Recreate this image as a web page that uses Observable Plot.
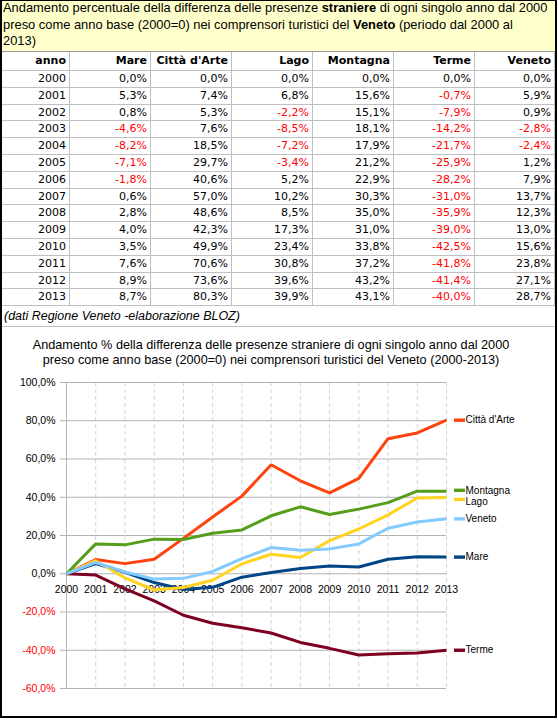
<!DOCTYPE html>
<html>
<head>
<meta charset="utf-8">
<script src="https://cdn.jsdelivr.net/npm/d3@7"></script>
<script src="https://cdn.jsdelivr.net/npm/@observablehq/plot@0.6"></script>
<style>
  body { margin: 0; background: #fff; }
  #wrap { position: relative; width: 558px; height: 720px; overflow: hidden; background: #fff; }
  #frame { position: absolute; left: 0; top: 0; width: 557px; height: 718px; box-sizing: border-box;
           border-left: 2px solid #000; border-right: 2px solid #000; border-bottom: 2px solid #000; border-top: 1px solid #000; pointer-events: none; z-index: 5; }
  #titlebox { position: absolute; left: 0; top: 0; width: 557px; height: 52px; box-sizing: border-box;
              background: #ffffcc; border-bottom: 1px solid #9a9a9a; padding-left: 3px; padding-top: 0px;
              font-family: "Liberation Sans", Arial, sans-serif; font-size: 13px; line-height: 16.5px; color: #000; white-space: nowrap; }
  .cell { position: absolute; box-sizing: border-box; border-right: 1px solid #c0c0c0; border-bottom: 1px solid #c0c0c0;
          text-align: right; padding-right: 3px; font-family: "DejaVu Sans", Verdana, sans-serif; font-size: 11px; color: #000; white-space: nowrap; overflow: hidden; }
  .hdr { font-weight: bold; }
  .neg { color: #ff0000; }
  #caption { position: absolute; left: 2px; top: 306px; width: 553px; height: 21px; box-sizing: border-box; border-bottom: 1px solid #c0c0c0;
             padding-left: 2px; font-family: "Liberation Sans", Arial, sans-serif; font-style: italic; font-size: 11px; line-height: 20px; white-space: nowrap; }
  #ctitle { position: absolute; left: 0; top: 338px; width: 542px; text-align: center; font-family: "Liberation Sans", Arial, sans-serif;
            font-size: 12px; line-height: 15px; color: #000; white-space: nowrap; }
  #chart { position: absolute; left: 0; top: 330px; }
</style>
</head>
<body>
<div id="wrap">
  <div id="titlebox"><span id="t1">Andamento percentuale della differenza delle presenze <b>straniere</b> di ogni singolo anno dal 2000</span><br>preso come anno base (2000=0) nei comprensori turistici del <b>Veneto</b> (periodo dal 2000 al<br>2013)</div>
  <div id="table"></div>
  <div id="caption"><span id="capt">(dati Regione Veneto -elaborazione BLOZ)</span></div>
  <div id="chart"></div>
  <div id="ctitle"><span id="ct1">Andamento % della differenza delle presenze straniere di ogni singolo anno dal 2000</span><br>preso come anno base (2000=0) nei comprensori turistici del Veneto (2000-2013)</div>
  <div id="frame"></div>
</div>
<script>
// ---- data ----
const years = [2000, 2001, 2002, 2003, 2004, 2005, 2006, 2007, 2008, 2009, 2010, 2011, 2012, 2013];
const mare = [0.0, 5.3, 0.8, -4.6, -8.2, -7.1, -1.8, 0.6, 2.8, 4.0, 3.5, 7.6, 8.9, 8.7];
const cittaArte = [0.0, 7.4, 5.3, 7.6, 18.5, 29.7, 40.6, 57.0, 48.6, 42.3, 49.9, 70.6, 73.6, 80.3];
const lago = [0.0, 6.8, -2.2, -8.5, -7.2, -3.4, 5.2, 10.2, 8.5, 17.3, 23.4, 30.8, 39.6, 39.9];
const montagna = [0.0, 15.6, 15.1, 18.1, 17.9, 21.2, 22.9, 30.3, 35.0, 31.0, 33.8, 37.2, 43.2, 43.1];
const terme = [0.0, -0.7, -7.9, -14.2, -21.7, -25.9, -28.2, -31.0, -35.9, -39.0, -42.5, -41.8, -41.4, -40.0];
const veneto = [0.0, 5.9, 0.9, -2.8, -2.4, 1.2, 7.9, 13.7, 12.3, 13.0, 15.6, 23.8, 27.1, 28.7];
const seriesNames = ["Mare", "Città d'Arte", "Lago", "Montagna", "Terme", "Veneto"];
const yearHeader = "anno";
const yTicks = [-60, -40, -20, 0, 20, 40, 60, 80, 100];

// ---- styles ----
const seriesColors = ["#004586", "#ff420e", "#ffd320", "#579d1c", "#7e0021", "#83caff"];
const seriesValues = [mare, cittaArte, lago, montagna, terme, veneto];
const fmtPct = v => v.toFixed(1).replace(".", ",") + "%";

// ---- table ----
const colEdges = [2, 70, 151, 232, 313, 394, 475, 555];
const headerTop = 52, headerH = 19, rowH = 16.8;
const tbl = document.getElementById("table");
function addCell(text, c, top, h, cls) {
  const d = document.createElement("div");
  d.className = "cell " + (cls || "");
  d.style.left = colEdges[c] + "px";
  d.style.top = top + "px";
  d.style.width = (colEdges[c + 1] - colEdges[c]) + "px";
  d.style.height = h + "px";
  d.style.lineHeight = (h - 1) + "px";
  d.textContent = text;
  tbl.appendChild(d);
}
addCell(yearHeader, 0, headerTop, headerH, "hdr");
seriesNames.forEach((n, i) => addCell(n, i + 1, headerTop, headerH, "hdr"));
years.forEach((y, r) => {
  const top = headerTop + headerH + r * rowH;
  addCell(String(y), 0, top, rowH + 0.01);
  seriesValues.forEach((vals, i) => addCell(fmtPct(vals[r]), i + 1, top, rowH + 0.01, vals[r] < 0 ? "neg" : ""));
});

// ---- fit text widths ----
function fit(id, target) {
  const el = document.getElementById(id);
  const parent = el.parentElement;
  const fs = parseFloat(getComputedStyle(parent).fontSize);
  const w = el.getBoundingClientRect().width;
  parent.style.fontSize = (fs * target / w) + "px";
}
fit("t1", 545);
fit("capt", 236);
fit("ct1", 477);

// ---- chart ----
const rows = seriesNames.flatMap((name, i) => years.map((year, j) => ({name, year, value: seriesValues[i][j]})));
const ends = seriesNames.map((name, i) => ({name, year: years[years.length - 1], value: seriesValues[i][years.length - 1]}));
const barSymbol = {draw(ctx) { ctx.moveTo(-5.5, -1.7); ctx.lineTo(5.5, -1.7); ctx.lineTo(5.5, 1.7); ctx.lineTo(-5.5, 1.7); ctx.closePath(); }};
const endsMain = ends.filter(d => d.name !== "Lago" && d.name !== "Montagna");
const endsMontagna = ends.filter(d => d.name === "Montagna");
const endsLago = ends.filter(d => d.name === "Lago");

const chart = Plot.plot({
  width: 556,
  height: 388,
  marginLeft: 66,
  marginRight: 110,
  marginTop: 52,
  marginBottom: 30,
  style: {fontFamily: "'Liberation Sans', Arial, sans-serif", fontSize: "10px", background: "transparent", color: "#000", overflow: "visible"},
  x: {type: "linear", domain: [years[0], years[years.length - 1]], axis: null},
  y: {domain: [yTicks[0], yTicks[yTicks.length - 1]]},
  color: {domain: seriesNames, range: seriesColors},
  marks: [
    Plot.ruleX(years, {stroke: "#d4d4d4", strokeDasharray: "4,3"}),
    Plot.ruleY(yTicks, {stroke: "#b3b3b3"}),
    Plot.ruleX([years[0]], {stroke: "#b3b3b3"}),
    Plot.axisY({ticks: yTicks, tickSize: 6, tickFormat: () => "", stroke: "#b3b3b3", label: null}),
    Plot.text(yTicks.filter(d => d >= 0), {y: d => d, frameAnchor: "left", dx: -11, textAnchor: "end", text: fmtPct, fill: "#000", fontSize: 10.5}),
    Plot.text(yTicks.filter(d => d < 0), {y: d => d, frameAnchor: "left", dx: -11, textAnchor: "end", text: fmtPct, fill: "#ff0000", fontSize: 10.5}),
    Plot.text(years, {x: d => d, y: () => 0, dy: 16, text: d => String(d), fill: "#000", fontSize: 10.5}),
    Plot.line(rows, {x: "year", y: "value", z: "name", stroke: "name", strokeWidth: 3, strokeLinejoin: "miter", strokeLinecap: "butt"}),
    Plot.dot(endsMain, {x: "year", y: "value", fill: "name", symbol: barSymbol, r: 5, dx: 13, stroke: null}),
    Plot.dot(endsMontagna, {x: "year", y: "value", fill: "name", symbol: barSymbol, r: 5, dx: 13, dy: -1, stroke: null}),
    Plot.dot(endsLago, {x: "year", y: "value", fill: "name", symbol: barSymbol, r: 5, dx: 13, dy: 2, stroke: null}),
    Plot.text(endsMain, {x: "year", y: "value", text: "name", dx: 19, textAnchor: "start", fill: "#000"}),
    Plot.text(endsMontagna, {x: "year", y: "value", text: "name", dx: 19, dy: -1, textAnchor: "start", fill: "#000"}),
    Plot.text(endsLago, {x: "year", y: "value", text: "name", dx: 19, dy: 4, textAnchor: "start", fill: "#000"})
  ]
});
document.getElementById("chart").appendChild(chart);
</script>
</body>
</html>
